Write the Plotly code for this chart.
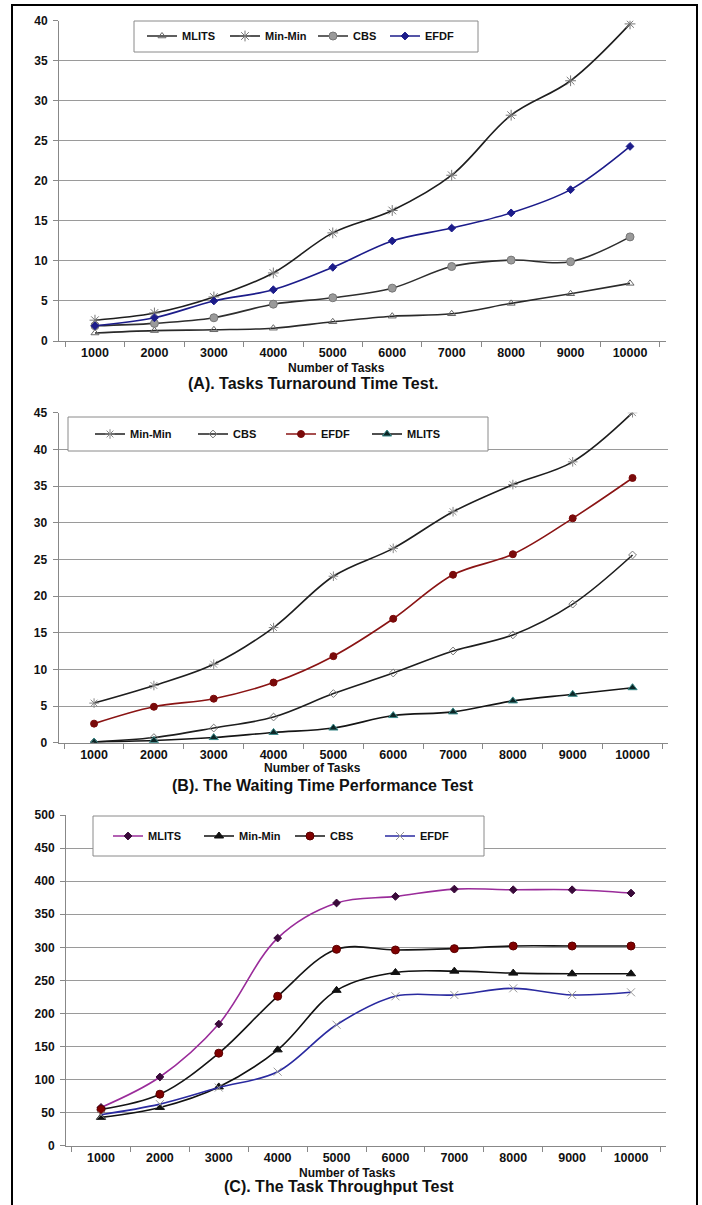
import plotly.graph_objects as go

W, H = 702, 1205

tasks = ["1000", "2000", "3000", "4000", "5000", "6000", "7000", "8000", "9000", "10000"]

# (A) Tasks Turnaround Time
a_mlits = [1.0, 1.3, 1.4, 1.6, 2.4, 3.1, 3.4, 4.7, 5.9, 7.2]
a_minmin = [2.6, 3.5, 5.5, 8.5, 13.5, 16.3, 20.7, 28.2, 32.5, 39.6]
a_cbs = [1.9, 2.2, 2.9, 4.6, 5.4, 6.6, 9.3, 10.1, 9.9, 13.0]
a_efdf = [1.9, 2.9, 5.0, 6.4, 9.2, 12.5, 14.1, 16.0, 18.9, 24.3]

# (B) Waiting Time
b_minmin = [5.4, 7.8, 10.7, 15.7, 22.7, 26.5, 31.5, 35.2, 38.3, 45.0]
b_cbs = [0.1, 0.7, 2.0, 3.5, 6.7, 9.5, 12.5, 14.7, 18.9, 25.6]
b_efdf = [2.6, 4.9, 6.0, 8.2, 11.8, 16.9, 22.9, 25.7, 30.6, 36.1]
b_mlits = [0.1, 0.3, 0.7, 1.4, 2.0, 3.7, 4.2, 5.7, 6.6, 7.5]

# (C) Throughput
c_mlits = [58, 104, 184, 314, 367, 377, 388, 387, 387, 382]
c_minmin = [43, 58, 89, 145, 235, 262, 264, 261, 260, 260]
c_cbs = [55, 78, 140, 226, 297, 296, 298, 302, 302, 302]
c_efdf = [47, 63, 88, 112, 183, 226, 228, 238, 228, 232]

FONT = "Liberation Sans Narrow, Arial Narrow, Liberation Sans, Arial, sans-serif"

def px_x(v):
    return v / W

def px_y(v):
    return 1 - v / H

fig = go.Figure()

def add(x_ax, y_ax, leg, name, y, lcolor, sym, msize, mcolor, mline=None, lw=1.6, legw=None):
    marker = dict(symbol=sym, size=msize, color=mcolor)
    marker["line"] = dict(color=mline if mline else mcolor, width=1)
    fig.add_trace(go.Scatter(
        x=tasks, y=y, name=name, mode="lines+markers",
        line=dict(color=lcolor, width=lw, shape="spline", smoothing=1),
        marker=marker, xaxis=x_ax, yaxis=y_ax, legend=leg,
        legendwidth=legw,
    ))

# Panel A
add("x", "y", "legend", "MLITS", a_mlits, "#2a2a2a", "triangle-up-open", 7, "#666666", legw=38)
add("x", "y", "legend", "Min-Min", a_minmin, "#1e1e1e", "asterisk-open", 9, "#777777", legw=43)
add("x", "y", "legend", "CBS", a_cbs, "#2e2e2e", "circle", 8, "#9a9a9a", mline="#777777", legw=27)
add("x", "y", "legend", "EFDF", a_efdf, "#1c1c8a", "diamond", 6, "#1c1c8a", legw=40)
# Panel B
add("x2", "y2", "legend2", "Min-Min", b_minmin, "#1e1e1e", "asterisk-open", 8, "#888888", legw=58)
add("x2", "y2", "legend2", "CBS", b_cbs, "#1e1e1e", "diamond-open", 6, "#777777", legw=43)
add("x2", "y2", "legend2", "EFDF", b_efdf, "#8a1414", "circle", 7, "#7a0a0a", legw=41)
add("x2", "y2", "legend2", "MLITS", b_mlits, "#151515", "triangle-up", 8, "#0c2626", mline="#3a8a8a", legw=40)
# Panel C
add("x3", "y3", "legend3", "MLITS", c_mlits, "#9a2c9a", "diamond", 6, "#3a0a3a", legw=46)
add("x3", "y3", "legend3", "Min-Min", c_minmin, "#111111", "triangle-up", 8, "#111111", legw=46)
add("x3", "y3", "legend3", "CBS", c_cbs, "#151515", "circle", 8, "#800000", mline="#5a0000", legw=45)
add("x3", "y3", "legend3", "EFDF", c_efdf, "#2a2aa0", "x-thin-open", 8, "#9a9a9a", legw=40)

panels = [
    # xaxis, yaxis, x-left, x-right, y-top px, y-bottom px, ymax, dtick
    ("xaxis", "yaxis", 59, 666, 20.7, 341, 40, 5),
    ("xaxis2", "yaxis2", 58.6, 668, 412.7, 742.7, 45, 5),
    ("xaxis3", "yaxis3", 66, 666, 815, 1145.8, 500, 50),
]

layout = dict(
    width=W, height=H,
    margin=dict(l=0, r=0, t=0, b=0, autoexpand=False),
    paper_bgcolor="white", plot_bgcolor="white",
    font=dict(family=FONT, color="#111111"),
    showlegend=True,
)

for i, (xa, ya, xl, xr, yt, yb, ymax, dt) in enumerate(panels):
    anchor_y = "y" if i == 0 else f"y{i+1}"
    anchor_x = "x" if i == 0 else f"x{i+1}"
    layout[xa] = dict(
        domain=[px_x(xl), px_x(xr)], anchor=anchor_y,
        type="category", tickson="boundaries", ticks="outside", ticklen=5,
        tickcolor="#888888", showline=True, linecolor="#888888", linewidth=1,
        showgrid=False, zeroline=False, automargin=False,
        tickfont=dict(family=FONT, size=12.5, color="#111111", weight="bold"),
        fixedrange=True,
    )
    layout[ya] = dict(
        domain=[px_y(yb), px_y(yt)], anchor=anchor_x,
        range=[0, ymax], dtick=dt, tick0=0,
        ticks="outside", ticklen=5, tickcolor="#888888",
        showline=True, linecolor="#888888", linewidth=1,
        showgrid=True, gridcolor="#9a9a9a", gridwidth=1, zeroline=False,
        automargin=False,
        tickfont=dict(family=FONT, size=12, color="#111111", weight="bold"),
        ticklabelstandoff=3,
        fixedrange=True,
    )

legend_common = dict(
    orientation="h", bgcolor="rgba(0,0,0,0)", borderwidth=0,
    font=dict(family=FONT, size=11, color="#111111", weight="bold"),
    itemwidth=30, xanchor="left", yanchor="middle", itemclick=False,
)
layout["legend"] = dict(legend_common, x=px_x(142), y=px_y(36))
layout["legend2"] = dict(legend_common, x=px_x(90), y=px_y(434))
layout["legend3"] = dict(legend_common, x=px_x(108), y=px_y(836))

fig.update_layout(**layout)

shapes = []
# legend boxes
for (x0, x1, y0, y1) in [(134, 478, 21, 52), (68, 488, 417, 451), (93, 484, 816, 856)]:
    shapes.append(dict(type="rect", xref="paper", yref="paper", layer="above",
                       x0=px_x(x0), x1=px_x(x1), y0=px_y(y1), y1=px_y(y0),
                       fillcolor="white", line=dict(color="#8a8a8a", width=1)))
# outer frame
shapes.append(dict(type="rect", xref="paper", yref="paper", layer="above",
                   x0=px_x(12), x1=px_x(697), y0=-0.02, y1=px_y(5),
                   fillcolor="rgba(0,0,0,0)", line=dict(color="black", width=2)))
fig.update_layout(shapes=shapes)

annos = [
    ("Number of Tasks", 336, 368, 12),
    ("(A). Tasks Turnaround Time Test.", 313, 383, 16),
    ("Number of Tasks", 312, 768, 12),
    ("(B). The Waiting Time Performance Test", 323, 785, 16),
    ("Number of Tasks", 347, 1173, 12),
    ("(C). The Task Throughput Test", 339, 1186, 16),
]
for text, x, y, s in annos:
    fig.add_annotation(text=text, x=px_x(x), y=px_y(y), xref="paper", yref="paper",
                       showarrow=False, xanchor="center", yanchor="middle",
                       font=dict(family=FONT, size=s, color="#111111", weight="bold"))

fig.write_html(
    "out.html",
    config={"displayModeBar": False},
    post_script="document.body.style.margin='0';document.body.style.overflow='hidden';",
)
